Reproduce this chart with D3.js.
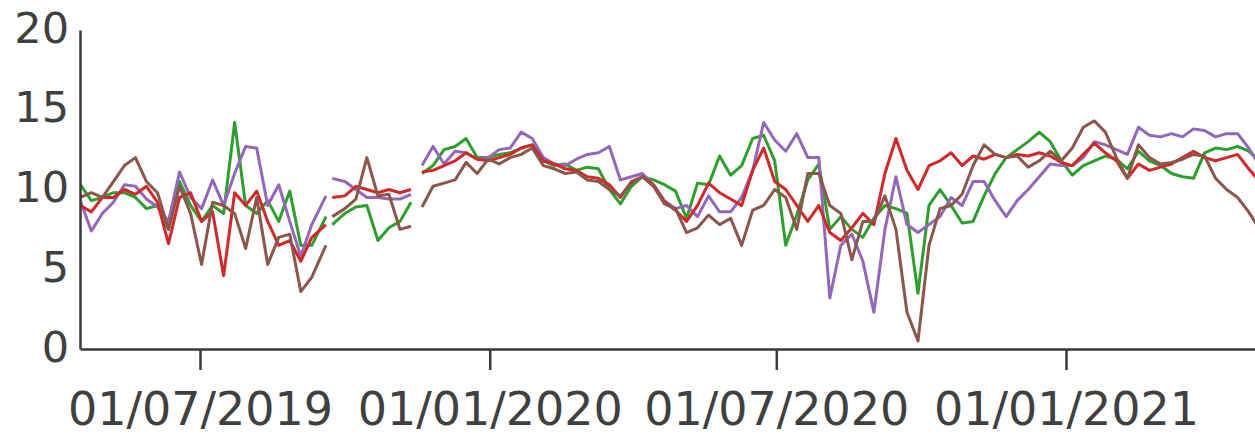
<!DOCTYPE html>
<html>
<head>
<meta charset="utf-8">
<script src="https://cdn.jsdelivr.net/npm/d3@7"></script>
<style>
  html, body { margin: 0; padding: 0; background: #fff; }
  svg { display: block; }
  .axis text { font-family: "DejaVu Sans", Verdana, sans-serif; fill: #404040; }
  .axis path, .axis line { stroke: #3a3a3a; stroke-width: 2.5; }
</style>
</head>
<body>
<div id="chart"></div>
<script>
// Observation dates (null entries in the series mark breaks in the record)
const dates = [
  "2019-04-16","2019-04-23","2019-04-30","2019-05-07","2019-05-14","2019-05-21","2019-05-28",
  "2019-06-04","2019-06-11","2019-06-18","2019-06-25","2019-07-02","2019-07-09","2019-07-16",
  "2019-07-23","2019-07-30","2019-08-06","2019-08-13","2019-08-20","2019-08-27","2019-09-03",
  "2019-09-10","2019-09-19","2019-09-21","2019-09-23","2019-10-01","2019-10-08","2019-10-15",
  "2019-10-22","2019-10-29","2019-11-05","2019-11-12","2019-11-15","2019-11-19","2019-11-26",
  "2019-12-03","2019-12-10","2019-12-17","2019-12-24","2019-12-31","2020-01-07","2020-01-14",
  "2020-01-21","2020-01-28","2020-02-04","2020-02-11","2020-02-18","2020-02-25","2020-03-03",
  "2020-03-10","2020-03-17","2020-03-24","2020-03-31","2020-04-07","2020-04-14","2020-04-21",
  "2020-04-28","2020-05-05","2020-05-12","2020-05-19","2020-05-26","2020-06-02","2020-06-09",
  "2020-06-16","2020-06-23","2020-06-30","2020-07-07","2020-07-14","2020-07-21","2020-07-28",
  "2020-08-04","2020-08-11","2020-08-18","2020-08-25","2020-09-01","2020-09-08","2020-09-15",
  "2020-09-22","2020-09-29","2020-10-06","2020-10-13","2020-10-20","2020-10-27","2020-11-03",
  "2020-11-10","2020-11-17","2020-11-24","2020-12-01","2020-12-08","2020-12-15","2020-12-22",
  "2020-12-29","2021-01-05","2021-01-12","2021-01-19","2021-01-26","2021-02-02","2021-02-09",
  "2021-02-16","2021-02-23","2021-03-02","2021-03-09","2021-03-16","2021-03-23","2021-03-30",
  "2021-04-06","2021-04-13","2021-04-20","2021-04-27","2021-05-04"
];

const seriesGreen = [
  10.3, 9.3, 9.5, 9.8, 9.8, 9.5, 8.8, 9.0, 7.5, 10.5, 9.0, 8.0, 9.0, 8.5, 14.2, 9.0, 8.5, 9.3, 8.0, 9.9, 6.5, 6.5, 8.3,
  null,
  7.8, 8.5, 8.9, 9.0, 6.8, 7.6, 8.0, 9.2,
  null,
  11.0, 11.5, 12.5, 12.7, 13.2, 12.0, 12.0, 12.2, 12.3, 12.6,
  12.8, 11.8, 11.5, 11.6, 11.2, 11.4, 11.3, 10.0, 9.1, 10.2,
  10.8, 10.6, 10.3, 9.9, 8.2, 10.4, 10.3, 12.1, 10.9, 11.5,
  13.2, 13.4, 11.8, 6.5, 8.4, 10.6, 11.6, 7.5, 8.3, 7.5,
  7.0, 8.2, 9.0, 8.8, 8.5, 3.5, 9.0, 10.0, 9.0, 7.9,
  8.0, 9.6, 11.0, 12.0, 12.5, 13.0, 13.6, 13.0, 11.8, 10.9,
  11.5, 11.8, 12.1, 11.9, 11.3, 12.4, 11.8, 11.5, 11.0, 10.8,
  10.7, 12.3, 12.6, 12.5, 12.7, 12.4, 11.8
];

const seriesPurple = [
  9.3, 7.4, 8.5, 9.2, 10.3, 10.2, 9.4, 8.9, 8.0, 11.1, 9.5, 8.8, 10.6, 9.0, 11.0, 12.7, 12.6, 9.0, 10.3, 8.0, 5.8, 7.8, 9.6,
  null,
  10.7, 10.5, 10.0, 9.5, 9.5, 9.4, 9.4, 9.7,
  null,
  11.5, 12.7, 11.6, 12.4, 12.3, 11.9, 12.0, 12.5, 12.6, 13.6,
  13.2, 12.0, 11.6, 11.5, 11.9, 12.2, 12.3, 12.7, 10.6, 10.8,
  11.0, 10.3, 9.3, 8.8, 9.0, 8.3, 9.6, 8.6, 8.6, 9.5,
  11.2, 14.2, 13.1, 12.4, 13.5, 12.0, 12.0, 3.2, 6.5, 7.2,
  5.5, 2.3, 7.5, 10.8, 7.8, 7.3, 7.8, 8.3, 9.5, 9.0,
  10.5, 10.5, 9.3, 8.3, 9.3, 10.0, 10.8, 11.6, 11.5, 11.5,
  12.0, 13.0, 12.8, 12.5, 12.2, 13.9, 13.4, 13.3, 13.5, 13.3,
  13.8, 13.7, 13.3, 13.5, 13.5, 12.6, 11.5
];

const seriesRed = [
  9.0, 8.6, 9.5, 9.5, 10.0, 9.7, 10.2, 9.2, 6.6, 9.5, 9.8, 8.0, 8.6, 4.6, 9.8, 9.0, 9.9, 8.0, 6.5, 6.8, 5.5, 7.0, 7.8,
  null,
  9.5, 9.6, 10.2, 10.0, 9.8, 10.0, 9.8, 10.0,
  null,
  11.1, 11.2, 11.5, 11.8, 12.3, 11.9, 11.8, 12.0, 12.2, 12.6,
  12.8, 11.8, 11.6, 11.3, 11.2, 10.8, 10.7, 10.3, 9.5, 10.5,
  10.8, 10.3, 9.2, 8.7, 8.0, 9.0, 10.4, 9.8, 9.4, 9.0,
  11.2, 12.6, 10.5, 10.0, 9.0, 8.0, 9.0, 7.3, 6.8, 7.6,
  8.5, 7.8, 11.0, 13.2, 11.2, 10.0, 11.5, 11.8, 12.3, 11.5,
  12.1, 11.9, 12.2, 12.0, 12.2, 12.1, 12.3, 12.1, 11.7, 11.5,
  12.2, 12.9, 12.3, 11.8, 10.7, 11.6, 11.2, 11.4, 11.6, 12.0,
  12.4, 12.0, 11.8, 12.0, 12.2, 11.3, 10.5
];

const seriesBrown = [
  9.5, 9.8, 9.5, 10.5, 11.5, 12.0, 10.5, 9.8, 7.5, 10.2, 8.5, 5.3, 9.2, 9.0, 8.5, 6.3, 9.5, 5.3, 7.0, 7.2, 3.6, 4.5, 6.5,
  null,
  8.3, 8.8, 9.4, 12.0, 9.6, 9.7, 7.5, 7.7,
  null,
  8.9, 10.2, 10.4, 10.6, 11.7, 11.0, 11.9, 11.6, 12.0, 12.2,
  12.6, 11.5, 11.3, 11.0, 11.1, 10.6, 10.5, 10.0, 9.6, 10.4,
  10.8, 10.2, 9.1, 8.8, 7.3, 7.6, 8.4, 7.8, 8.2, 6.5,
  8.7, 9.0, 10.0, 9.5, 7.5, 11.0, 11.0, 9.0, 8.5, 5.6,
  8.0, 8.0, 9.6, 7.5, 2.3, 0.5, 6.5, 8.8, 9.0, 9.7,
  11.5, 12.8, 12.2, 12.0, 12.1, 11.4, 11.8, 12.4, 11.8, 12.6,
  13.9, 14.3, 13.6, 12.0, 10.7, 12.8, 12.0, 11.6, 11.7, 11.9,
  12.2, 12.1, 10.7, 10.0, 9.5, 8.6, 7.5
];

const yTickValues = [0, 5, 10, 15, 20];
const xTickLabels = ["2019-07-01", "2020-01-01", "2020-07-01", "2021-01-01"];

const seriesList = [
  { name: "green",  values: seriesGreen,  color: "#2ca02c" },
  { name: "purple", values: seriesPurple, color: "#9467bd" },
  { name: "red",    values: seriesRed,    color: "#d62728" },
  { name: "brown",  values: seriesBrown,  color: "#8c564b" }
];

const width = 1255, height = 435;
const plotLeft = 80, plotRight = 1255, plotTop = 30, plotBottom = 349;

const parse = d3.timeParse("%Y-%m-%d");
const dateObjs = dates.map(parse);
const xTickDates = xTickLabels.map(parse);

// Time scale anchored on the labelled ticks, then widened to the plot edges
const x0 = d3.scaleTime()
  .domain([xTickDates[0], xTickDates[3]])
  .range([200, 1066]);
const x = d3.scaleTime()
  .domain([x0.invert(plotLeft), x0.invert(plotRight)])
  .range([plotLeft, plotRight]);

const y = d3.scaleLinear().domain([0, 20]).range([plotBottom, plotTop]);

const svg = d3.select("#chart").append("svg")
  .attr("width", width).attr("height", height);

svg.append("defs").append("clipPath").attr("id", "plot-clip")
  .append("rect")
  .attr("x", plotLeft).attr("y", 0)
  .attr("width", plotRight - plotLeft).attr("height", plotBottom);

const line = d3.line()
  .defined(d => d.v != null)
  .x(d => x(d.date))
  .y(d => y(d.v));

const linesG = svg.append("g").attr("clip-path", "url(#plot-clip)");
seriesList.forEach(s => {
  const pts = dateObjs.map((date, i) => ({ date, v: s.values[i] }));
  linesG.append("path")
    .datum(pts)
    .attr("fill", "none")
    .attr("stroke", s.color)
    .attr("stroke-width", 3)
    .attr("stroke-linejoin", "round")
    .attr("d", line);
});

// Y axis
const yAxis = svg.append("g")
  .attr("class", "axis")
  .attr("transform", `translate(${plotLeft},0)`)
  .call(d3.axisLeft(y).tickValues(yTickValues).tickSize(0).tickSizeOuter(0).tickPadding(11));
yAxis.selectAll("text").attr("font-size", 43).attr("dy", "0.28em");

// X axis
const xAxis = svg.append("g")
  .attr("class", "axis")
  .attr("transform", `translate(0,${plotBottom})`)
  .call(d3.axisBottom(x).tickValues(xTickDates)
    .tickFormat(d3.timeFormat("%d/%m/%Y"))
    .tickSize(21).tickSizeOuter(0).tickPadding(22));
xAxis.selectAll("text").attr("font-size", 46);
</script>
</body>
</html>
